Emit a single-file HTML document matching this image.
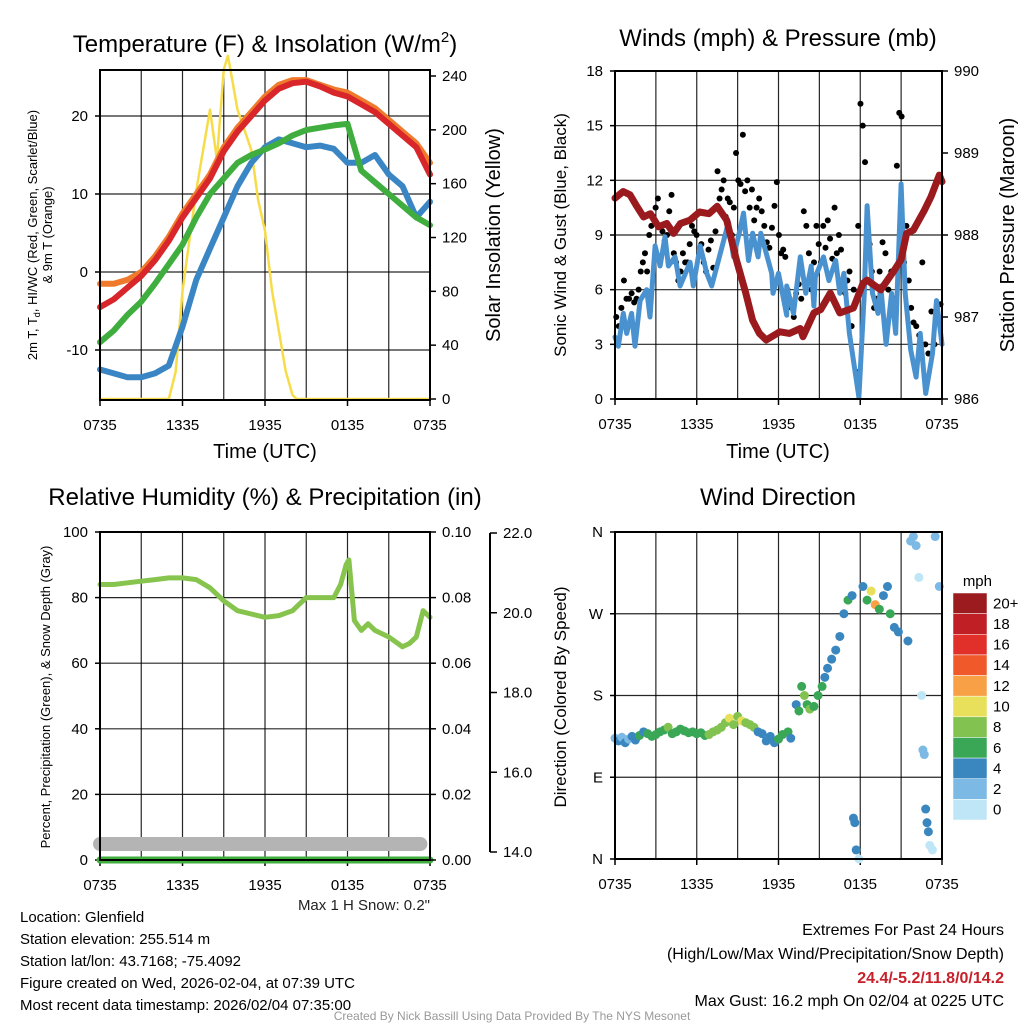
<!DOCTYPE html>
<html><head><meta charset="utf-8"><style>
html,body{margin:0;padding:0;background:#fff;}
svg{display:block;font-family:"Liberation Sans",Arial,sans-serif;}
</style></head><body>
<svg id="s" width="1024" height="1024" viewBox="0 0 1024 1024" xmlns="http://www.w3.org/2000/svg">
<g id="g"></g>
<text x="265" y="52" font-size="24" text-anchor="middle">Temperature (F) &amp; Insolation (W/m<tspan font-size="15" dy="-10">2</tspan><tspan dy="10">)</tspan></text>
<text x="778" y="46" font-size="24" text-anchor="middle">Winds (mph) &amp; Pressure (mb)</text>
<text x="265" y="505" font-size="24" text-anchor="middle">Relative Humidity (%) &amp; Precipitation (in)</text>
<text x="778" y="505" font-size="24" text-anchor="middle">Wind Direction</text>
<text transform="translate(37,235) rotate(-90)" font-size="13" text-anchor="middle">2m T, T<tspan font-size="9" dy="3">d</tspan><tspan dy="-3">, HI/WC (Red, Green, Scarlet/Blue)</tspan></text>
<text transform="translate(52,235) rotate(-90)" font-size="13" text-anchor="middle">&amp; 9m T (Orange)</text>
<text transform="translate(500,235) rotate(-90)" font-size="20" text-anchor="middle">Solar Insolation (Yellow)</text>
<text transform="translate(566,235) rotate(-90)" font-size="17" text-anchor="middle">Sonic Wind &amp; Gust (Blue, Black)</text>
<text transform="translate(1014,235) rotate(-90)" font-size="20" text-anchor="middle">Station Pressure (Maroon)</text>
<text transform="translate(50,697) rotate(-90)" font-size="13" text-anchor="middle">Percent, Precipitation (Green), &amp; Snow Depth (Gray)</text>
<text transform="translate(566,697) rotate(-90)" font-size="17" text-anchor="middle">Direction (Colored By Speed)</text>
<text x="265" y="458" font-size="20" text-anchor="middle">Time (UTC)</text>
<text x="778" y="458" font-size="20" text-anchor="middle">Time (UTC)</text>
<text x="430" y="910" font-size="15" text-anchor="end" fill="#222">Max 1 H Snow: 0.2"</text>
<g font-size="15" fill="#000">
<text x="20" y="922">Location: Glenfield</text>
<text x="20" y="944">Station elevation: 255.514 m</text>
<text x="20" y="966">Station lat/lon: 43.7168; -75.4092</text>
<text x="20" y="988">Figure created on Wed, 2026-02-04, at 07:39 UTC</text>
<text x="20" y="1010">Most recent data timestamp: 2026/02/04 07:35:00</text>
</g>
<g font-size="16" text-anchor="end">
<text x="1004" y="935">Extremes For Past 24 Hours</text>
<text x="1004" y="959">(High/Low/Max Wind/Precipitation/Snow Depth)</text>
<text x="1004" y="983" fill="#c8202a" font-weight="bold">24.4/-5.2/11.8/0/14.2</text>
<text x="1004" y="1006">Max Gust: 16.2 mph On 02/04 at 0225 UTC</text>
</g>
<text x="512" y="1020" font-size="12" fill="#999" text-anchor="middle">Created By Nick Bassill Using Data Provided By The NYS Mesonet</text>
<text x="992" y="586" font-size="15" text-anchor="end">mph</text>
</svg>
<script>
// ===== Data =====
const xTickLabels = ["0735","1335","1935","0135","0735"];
// Temperature panel (hours since 0735)
const tempHours = [0,1,2,3,4,5,6,7,8,9,10,11,12,13,14,15,16,17,18,19,20,21,22,23,24];
const tempRed   = [-4.5,-3.5,-2,-0.5,1.5,4,7,9.5,12,15.5,18,20,22,23.5,24.2,24.4,23.8,23,22.5,21.5,20.5,19,17.5,16,12.5];
const tempOrange= [-1.5,-1.5,-1,0,2,4.5,7.5,10,12.5,16,18.5,20.5,22.5,24,24.6,24.6,24,23.4,23,22,21,19.5,18,16.5,14];
const dewGreen  = [-9,-7.5,-5.5,-3.8,-1.5,1,3.5,7,10,12,14,15,15.7,16.5,17.5,18.2,18.5,18.8,19,13,11.5,10,8.5,7,6];
const chillBlue = [-12.5,-13,-13.5,-13.5,-13,-12,-7,-1,3,7,11,14,16,17,16.5,16,16.2,15.8,14,14,15,12.5,11,7,9];
const solarHours = [0,5,5.5,6,6.5,7,7.5,8,8.5,9,9.3,9.6,10,10.5,11,11.5,12,12.5,13,13.5,14,14.3,24];
const solarVals  = [0,0,20,80,118,155,185,215,178,245,255,238,215,200,185,148,125,81,51,21,3,0,0];
// Wind panel
const windHours = [0,0.24,0.61,0.86,1.22,1.47,1.84,2.33,2.57,2.94,3.31,3.67,3.92,4.41,4.78,5.51,5.75,6.25,6.74,7.1,8.33,8.7,9.18,9.43,9.8,10.1,10.5,10.7,11.5,11.6,12,12.6,12.6,13.1,13.6,14,14.4,14.6,14.7,15.3,15.7,16.2,16.5,16.8,17.2,17.9,18.3,18.5,18.9,19.3,19.5,19.9,20.3,20.6,21,21.3,21.7,22.1,22.4,22.8,23.3,23.6,24];
const windVals  = [3.4,2.9,4.7,3.6,4.7,2.9,5.4,6.0,4.5,8.4,7.3,8.9,7.3,7.8,6.2,7.5,6.2,8.4,6.9,6.2,9.7,7.8,9.3,10.2,7.6,9.1,7.8,9.1,6.9,5.8,6.9,4.6,6.2,4.7,7.8,5.8,7.3,5.1,6.7,7.8,6.5,7.6,5.8,6.9,3.6,0.1,5.8,10.6,5.8,4.7,6.2,3.0,5.8,3.6,11.8,5.8,2.7,1.2,3.6,0.3,2.5,5.4,3.0];
const gustGroups = [
 [0,1.5,[4.5,4,5,6.5,5.5,5.5,5.8,5.3]],
 [1.5,2.9,[5.5,6,7,7.5,8,7,9,9.5,10]],
 [2.9,4.4,[10.5,11,9.5,9.2,8.7,9,10.3,11.2,8]],
 [4.4,5.9,[7.5,6.5,7,8,7.5,7.5,8.5,9.5,9.2]],
 [5.9,7.3,[9,8,8.5,7.5,7,8.2,8.7,7.2]],
 [7.3,8.8,[9.2,12.5,11,11.5,12,10,11,10.8,9,10.5]],
 [8.8,10.3,[13.5,12,11.8,14.5,11.4,12,10.5,11.5,9.8]],
 [10.3,11.8,[10.5,11,10.3,9.5,8.6,8.3,9.4,10.6]],
 [11.8,13.2,[11.9,9,8,8.2,7.8,6,5.5,5,4.5]],
 [13.2,14.7,[5.8,6.3,5.5,10.3,9.5,8,6,7.5]],
 [14.7,16.2,[9.5,8.5,7.5,9.5,8.3,9.8,8.8,7.7,10.5]],
 [16.2,17.6,[8,9,8.2,6.5,5.8,6.5,7,4,6]],
 [17.6,19.1,[1.5,9.5,16.2,15,13,6.5,8.5,7,5]],
 [19.1,20.6,[5.5,7,8.6,8,6,7,5.5]],
 [20.6,22.0,[12.8,15.7,15.5,7.5,9.5,6.5,5,4.2]],
 [22.0,24.0,[4,3.5,7.5,3,2.5,4.8,3,4.2,5.2]]
];
const presHours = [0,0.6,1.1,1.6,2.1,2.6,3.2,3.8,4.3,4.8,5.5,6.2,6.9,7.5,8.2,8.9,9.6,10.1,10.6,11.1,12.1,12.8,13.6,13.8,14.6,15.1,15.8,16.5,17.5,18.2,18.5,19.5,20.5,21,21.4,21.9,22.7,23.2,23.8,24];
const presVals  = [988.45,988.53,988.49,988.35,988.22,988.26,988.1,988.14,988.02,988.14,988.18,988.28,988.26,988.35,988.18,987.7,987.29,986.96,986.8,986.72,986.82,986.8,986.86,986.76,987.05,987.09,987.29,987.05,987.11,987.41,987.45,987.33,987.57,987.7,988.02,988.06,988.3,988.47,988.73,988.65];
// RH panel
const rhHours = [0,1,2,3,4,5,6,7,8,9,10,11,12,13,14,15,16,17,17.5,17.9,18.1,18.5,19,19.5,20,21,22,22.5,23,23.5,24];
const rhVals  = [84,84,84.5,85,85.5,86,86,85.5,83,79,76,75,74,74.5,76,80,80,80,84,90,91.5,73,70,72,70,68,65,66,68,76,74];
const snowHours = [0,23.3];
const snowVals  = [14.2,14.2];
const precipHours = [0,24];
const precipVals  = [0,0];
// Wind direction panel
const dirHours = [0,0.25,0.5,0.75,1,1.25,1.5,1.8,2.1,2.4,2.7,3,3.3,3.6,3.9,4.2,4.5,4.8,5.1,5.4,5.7,6,6.3,6.6,6.9,7.2,7.5,7.8,8.1,8.4,8.7,9,9.3,9.6,9.9,10.2,10.5,10.8,11.1,11.4,11.7,12,12.3,12.7,12.9,13.3,13.5,13.7,13.9,14.1,14.3,14.6,14.9,15.2,15.4,15.6,15.9,16.2,16.5,16.8,17.1,17.4,17.5,17.6,17.7,17.9,18.2,18.5,18.8,19.1,19.4,19.7,20,20.2,20.5,20.8,21.5,21.7,21.9,22.1,22.3,22.5,22.6,22.7,22.8,22.9,23,23.1,23.3,23.5,23.8];
const dirVals  = [133,130,134,128,132,135,131,136,140,138,135,137,140,142,145,138,140,143,141,139,140,138,139,136,137,140,142,145,150,155,148,157,152,150,148,145,140,138,130,135,128,132,137,140,133,170,163,190,180,170,165,168,180,190,200,210,220,230,245,270,285,290,45,40,10,0,300,285,295,280,275,290,300,270,255,250,240,350,355,345,310,180,120,115,55,40,30,15,10,355,300];
const dirSpeed = [3,4,3,4,3,4,5,6,5,6,7,6,7,7,8,7,6,7,6,6,6,7,6,6,8,8,8,9,8,10,8,8,10,8,8,8,4,4,5,4,4,6,6,6,4,5,7,6,8,7,8,6,7,7,4,4,4,4,4,5,6,5,4,4,4,1,5,6,10,12,6,4,5,6,4,4,4,2,3,2,1,1,2,2,4,5,4,1,1,3,2];
const cbLabels = ["20+","18","16","14","12","10","8","6","4","2","0"];
const cbColors = ["#9b1b1e","#c11f26","#e1302a","#f05a2a","#f7a045","#e8e05a","#82c250","#3aa757","#3a87c0","#7db9e5","#bfe6f7"];
// ===== Drawing =====
const NS="http://www.w3.org/2000/svg";
const G=document.getElementById('g');
function mk(tag,attrs,parent){const e=document.createElementNS(NS,tag);for(const k in attrs)e.setAttribute(k,attrs[k]);(parent||G).appendChild(e);return e;}
function lin(d0,d1,r0,r1){return v=>r0+(v-d0)/(d1-d0)*(r1-r0);}
function txt(x,y,s,size,anchor,parent){const t=mk('text',{x:x,y:y,'font-size':size,'text-anchor':anchor},parent);t.textContent=s;return t;}
function linePath(xs,ys,hs,vs){let d='';for(let i=0;i<hs.length;i++){d+=(i?'L':'M')+xs(hs[i]).toFixed(1)+','+ys(vs[i]).toFixed(1);}return d;}
function speedColor(s){let idx=Math.min(10,Math.floor(s/2));return cbColors[10-idx];}
function panel(name,x0,x1,y0,y1,ly,lticks,lfmt){
  const g=mk('g',{});
  
  
  const xs=lin(0,24,x0,x1);
  for(let h=0;h<=24;h+=3){const gl=mk('line',{x1:xs(h),x2:xs(h),y1:y0,y2:y1,stroke:'#000','stroke-width':1.2,'stroke-opacity':0.85},g);}
  lticks.forEach(v=>{const gl=mk('line',{x1:x0,x2:x1,y1:ly(v),y2:ly(v),stroke:'#000','stroke-width':1.2,'stroke-opacity':0.85},g);
    const t=txt(x0-12,ly(v)+5,lfmt(v),15,'end',g);
    mk('line',{x1:x0-5,x2:x0,y1:ly(v),y2:ly(v),stroke:'#000','stroke-width':1.5},g);});
  xTickLabels.forEach((s,i)=>{const t=txt(xs(i*6),y1+30,s,15,'middle',g);mk('line',{x1:xs(i*6),x2:xs(i*6),y1:y1,y2:y1+6,stroke:'#000','stroke-width':1.5},g);});
  return {g,xs};
}
function border(x0,x1,y0,y1){const b=mk('rect',{x:x0,y:y0,width:x1-x0,height:y1-y0,fill:'none',stroke:'#000','stroke-width':2});}
function rightAxis(x,ys,ticks,fmt,y0,y1){ticks.forEach(v=>{mk('line',{x1:x,x2:x+6,y1:ys(v),y2:ys(v),stroke:'#000','stroke-width':1.5});const t=txt(x+12,ys(v)+5,fmt(v),15,'start');});}
function series(name,d,color,w,parent,extra){const p=mk('path',Object.assign({d:d,fill:'none',stroke:color,'stroke-width':w,'stroke-linejoin':'round','stroke-linecap':'round'},extra||{}),parent);return p;}

// Panel 1
{const x0=100,x1=430,y0=70,y1=400;
 const ly=lin(0,10,272,194), ry=lin(0,240,399,76);
 const P=panel('temperature',x0,x1,y0,y1,ly,[-10,0,10,20],v=>String(v));
 const cg=mk('g',{});
 series('solar-insolation-line',linePath(P.xs,ry,solarHours,solarVals),'#f7dc4a',2.5,cg);
 series('wind-chill-line',linePath(P.xs,ly,tempHours,chillBlue),'#3a86c4',6,cg);
 series('dewpoint-line',linePath(P.xs,ly,tempHours,dewGreen),'#3fae3f',6,cg);
 series('temp-9m-line',linePath(P.xs,ly,tempHours,tempOrange),'#f07a2c',6,cg);
 series('temp-2m-line',linePath(P.xs,ly,tempHours,tempRed),'#d8262a',6,cg);
 border(x0,x1,y0,y1);
 rightAxis(x1,ry,[0,40,80,120,160,200,240],v=>String(v));}
// Panel 2
{const x0=615,x1=942,y0=71,y1=399;
 const ly=lin(0,18,399,71), ry=lin(986,990,399,71);
 const P=panel('wind',x0,x1,y0,y1,ly,[0,3,6,9,12,15,18],v=>String(v));
 const cg=mk('g',{});
 gustGroups.forEach(gr=>{const [a,b,vals]=gr;vals.forEach((v,i)=>{const h=a+(i+0.5)*(b-a)/vals.length;const c=mk('circle',{cx:P.xs(h),cy:ly(v),r:3,fill:'#000'},cg);});});
 series('sonic-wind-line',linePath(P.xs,ly,windHours,windVals),'#4a92cf',5,cg);
 series('pressure-line',linePath(P.xs,ry,presHours,presVals),'#9b1a1e',7,cg);
 border(x0,x1,y0,y1);
 rightAxis(x1,ry,[986,987,988,989,990],v=>String(v));}
// Panel 3
{const x0=100,x1=430,y0=532,y1=860;
 const ly=lin(0,100,860,532), py=lin(0,0.1,860,532), sy=lin(14,22,852,533);
 const P=panel('humidity',x0,x1,y0,y1,ly,[0,20,40,60,80,100],v=>String(v));
 const cg=mk('g',{});
 series('snow-depth-line',linePath(P.xs,sy,snowHours,snowVals),'#b4b4b4',14,cg);
 series('precip-line',linePath(P.xs,py,precipHours,precipVals),'#3fae3f',7,cg);
 series('rh-line',linePath(P.xs,ly,rhHours,rhVals),'#86c44e',5,cg);
 border(x0,x1,y0,y1);
 rightAxis(x1,py,[0,0.02,0.04,0.06,0.08,0.1],v=>v.toFixed(2));
 const ax=mk('line',{x1:490,x2:490,y1:533,y2:852,stroke:'#000','stroke-width':2});
 [14,16,18,20,22].forEach(v=>{mk('line',{x1:490,x2:497,y1:sy(v),y2:sy(v),stroke:'#000','stroke-width':1.5});const t=txt(503,sy(v)+5,v.toFixed(1),15,'start');});}
// Panel 4
{const x0=615,x1=942,y0=532,y1=859;
 const ly=lin(0,360,859,532);
 const P=panel('direction',x0,x1,y0,y1,ly,[0,90,180,270,360],v=>["N","E","S","W","N"][v/90]);
 dirHours.forEach((h,i)=>{const c=mk('circle',{cx:P.xs(h),cy:ly(dirVals[i]),r:4.5,fill:speedColor(dirSpeed[i])});});
 border(x0,x1,y0,y1);
 const cb=mk('g',{});
 const bh=(820-593)/cbColors.length;
 cbColors.forEach((c,i)=>{mk('rect',{x:953,y:593+i*bh,width:34,height:bh,fill:c,stroke:'#fff','stroke-width':0.5},cb);const t=txt(993,593+i*bh+bh/2+5,cbLabels[i],15,'start',cb);});}
</script>
</body></html>
